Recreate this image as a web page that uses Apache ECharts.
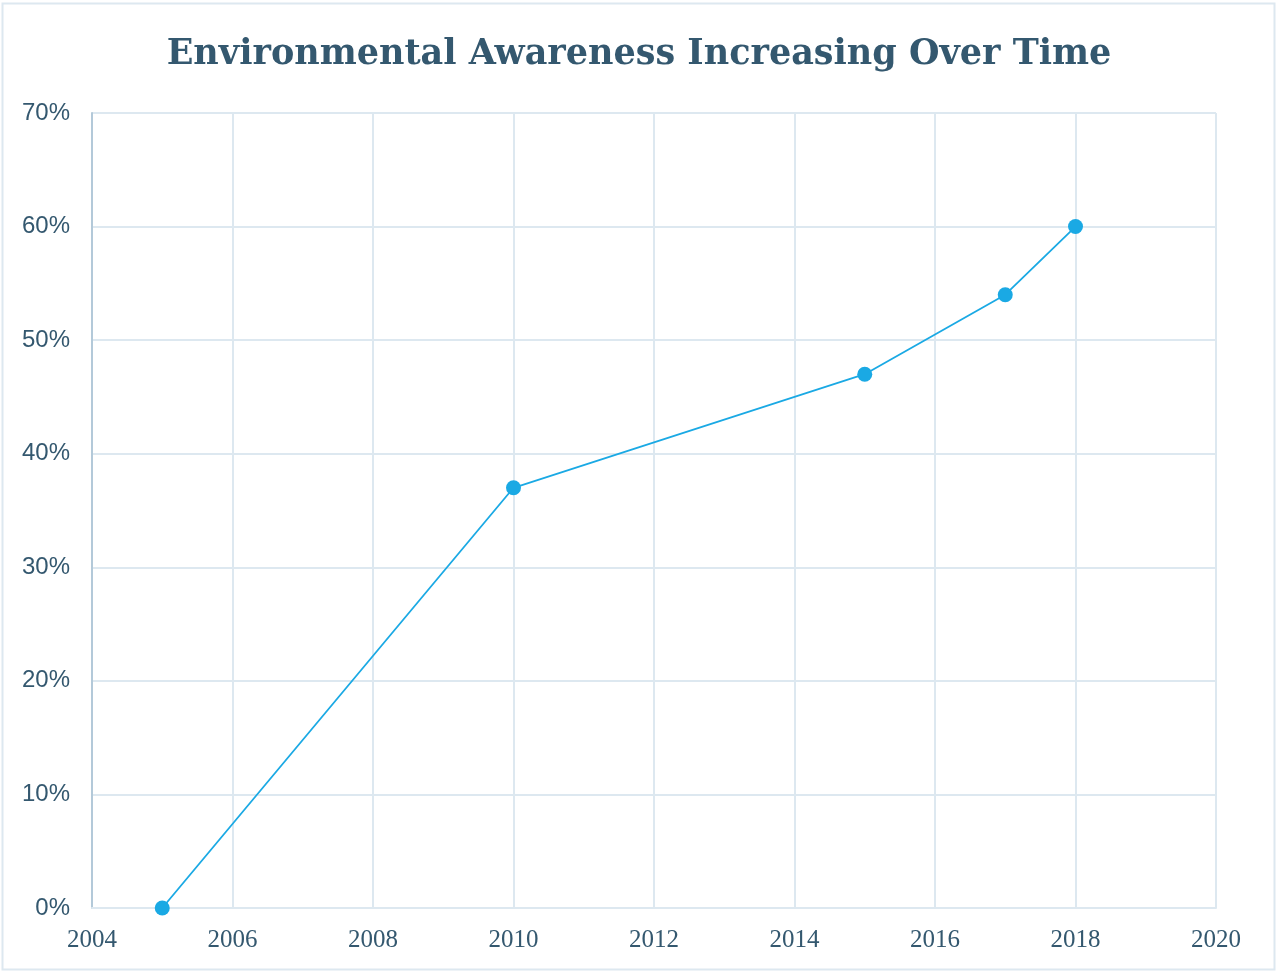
<!DOCTYPE html>
<html>
<head>
<meta charset="utf-8">
<script src="https://cdn.jsdelivr.net/npm/echarts@6/dist/echarts.min.js"></script>
<style>
  html, body { margin: 0; padding: 0; background: #ffffff; }
  #chart { width: 1278px; height: 973px; }
</style>
</head>
<body>
<div id="chart"></div>
<script>
// Survey years and share of respondents aware of environmental issues
const years = [2005, 2010, 2015, 2017, 2018];
const awareness = [0.00, 0.37, 0.47, 0.54, 0.60];

const textColor = '#34586f';
const gridColor = '#dde8f0';

const chart = echarts.init(document.getElementById('chart'));
chart.setOption({
  backgroundColor: '#ffffff',
  animation: false,
  title: {
    text: 'Environmental Awareness Increasing Over Time',
    left: 'center',
    top: 32,
    textStyle: {
      fontFamily: '"DejaVu Serif", serif',
      fontWeight: 'bold',
      fontSize: 35,
      color: textColor
    }
  },
  graphic: [{
    type: 'rect',
    shape: { x: 2.5, y: 3.5, width: 1272, height: 966 },
    style: { fill: 'none', stroke: gridColor, lineWidth: 2 },
    silent: true
  }],
  grid: { left: 92, right: 62, top: 113, bottom: 65 },
  xAxis: {
    type: 'value',
    min: 2004,
    max: 2020,
    interval: 2,
    axisLine: { show: true, onZero: false, lineStyle: { color: gridColor, width: 2 } },
    axisTick: { show: false },
    splitLine: { show: true, lineStyle: { color: gridColor, width: 2 } },
    axisLabel: {
      margin: 20,
      fontFamily: '"Liberation Serif", serif',
      fontSize: 25,
      color: textColor,
      formatter: v => String(v)
    }
  },
  yAxis: {
    type: 'value',
    min: 0,
    max: 0.7,
    interval: 0.1,
    axisLine: { show: true, lineStyle: { color: '#b3c9d9', width: 2 } },
    axisTick: { show: false },
    splitLine: { show: true, lineStyle: { color: gridColor, width: 2 } },
    axisLabel: {
      margin: 22,
      fontFamily: '"Liberation Sans", Arial, sans-serif',
      fontSize: 24,
      color: textColor,
      formatter: v => Math.round(v * 100) + '%'
    }
  },
  series: [{
    type: 'line',
    data: years.map((y, i) => [y, awareness[i]]),
    symbol: 'circle',
    symbolSize: 15,
    lineStyle: { color: '#1aa9e4', width: 1.8 },
    itemStyle: { color: '#1aa9e4' }
  }]
});
</script>
</body>
</html>
